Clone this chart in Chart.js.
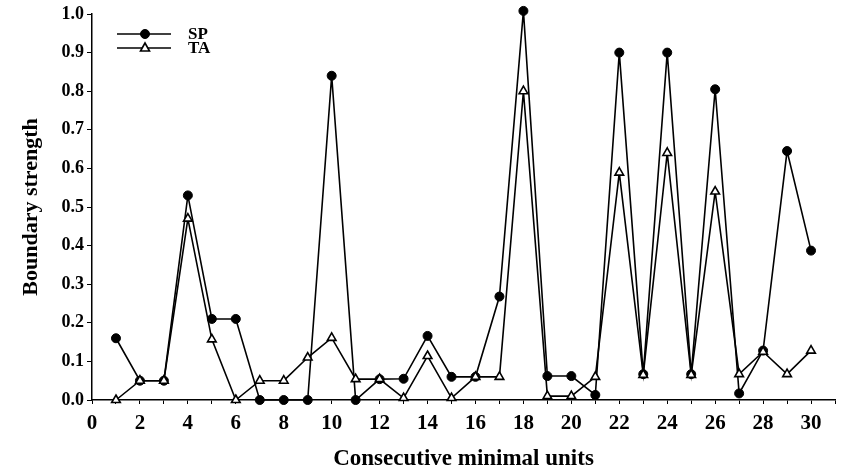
<!DOCTYPE html>
<html>
<head>
<meta charset="utf-8">
<script src="https://cdn.jsdelivr.net/npm/chart.js@4.4.1/dist/chart.umd.min.js"></script>
<style>
  html, body { margin: 0; padding: 0; background: #fff; }
  #wrap { position: relative; width: 842px; height: 469px; }
</style>
</head>
<body>
<div id="wrap"><canvas id="c" width="842" height="469"></canvas></div>
<script>
const units = [1,2,3,4,5,6,7,8,9,10,11,12,13,14,15,16,17,18,19,20,21,22,23,24,25,26,27,28,29,30];
const spValues = [0.16,0.05,0.05,0.53,0.21,0.21,0.00,0.00,0.00,0.84,0.00,0.054,0.055,0.166,0.06,0.06,0.268,1.008,0.062,0.062,0.013,0.90,0.067,0.90,0.067,0.805,0.017,0.128,0.645,0.387];
const taValues = [0.00,0.05,0.05,0.47,0.157,0.00,0.05,0.05,0.11,0.161,0.054,0.054,0.005,0.114,0.005,0.06,0.06,0.80,0.01,0.01,0.06,0.589,0.065,0.64,0.065,0.54,0.067,0.125,0.067,0.128];
const seriesNames = ['SP', 'TA'];
const xTickLabels = [0,2,4,6,8,10,12,14,16,18,20,22,24,26,28,30];
const yTickLabels = ['0.0','0.1','0.2','0.3','0.4','0.5','0.6','0.7','0.8','0.9','1.0'];
const xTitle = 'Consecutive minimal units';
const yTitle = 'Boundary strength';

const FONT = '"Liberation Serif", "Times New Roman", serif';

const legendPlugin = {
  id: 'inlineLegend',
  afterDatasetsDraw(chart) {
    const ctx = chart.ctx;
    const rows = [{y: 34}, {y: 48}];
    chart.data.datasets.forEach((ds, i) => {
      const y = rows[i].y;
      ctx.save();
      ctx.strokeStyle = '#000';
      ctx.lineWidth = 1.5;
      ctx.beginPath();
      ctx.moveTo(117, y);
      ctx.lineTo(171, y);
      ctx.stroke();
      ctx.fillStyle = ds.pointBackgroundColor;
      ctx.strokeStyle = '#000';
      ctx.lineWidth = ds.pointBorderWidth;
      ctx.beginPath();
      if (ds.pointStyle === 'circle') {
        ctx.arc(145, y, ds.pointRadius, 0, Math.PI * 2);
      } else {
        const r = ds.pointRadius;
        ctx.moveTo(145, y - r);
        ctx.lineTo(145 + r * 0.9, y + r * 0.6);
        ctx.lineTo(145 - r * 0.9, y + r * 0.6);
        ctx.closePath();
      }
      ctx.fill();
      ctx.stroke();
      ctx.fillStyle = '#000';
      ctx.font = 'bold 17px ' + FONT;
      ctx.textBaseline = 'middle';
      ctx.textAlign = 'left';
      ctx.fillText(ds.label, 188, y + 1);
      ctx.restore();
    });
  }
};

new Chart(document.getElementById('c'), {
  type: 'line',
  data: {
    datasets: [
      {
        label: seriesNames[0],
        data: units.map((u, i) => ({x: u, y: spValues[i]})),
        borderColor: '#000',
        borderWidth: 1.6,
        pointStyle: 'circle',
        pointRadius: 4.5,
        pointBackgroundColor: '#000',
        pointBorderColor: '#000',
        pointBorderWidth: 1,
        tension: 0,
        order: 2,
        clip: false
      },
      {
        label: seriesNames[1],
        data: units.map((u, i) => ({x: u, y: taValues[i]})),
        borderColor: '#000',
        borderWidth: 1.6,
        pointStyle: 'triangle',
        pointRadius: 5,
        pointBackgroundColor: '#fff',
        pointBorderColor: '#000',
        pointBorderWidth: 1.6,
        tension: 0,
        order: 1,
        clip: false
      }
    ]
  },
  options: {
    responsive: false,
    animation: false,
    devicePixelRatio: 1,
    layout: { padding: { top: 14, right: 4, left: 0, bottom: 0 } },
    plugins: { legend: { display: false }, tooltip: { enabled: false } },
    scales: {
      x: {
        type: 'linear',
        min: 0,
        max: 31,
        afterBuildTicks(scale) {
          const t = [];
          for (let v = 0; v <= 31; v++) t.push({value: v});
          scale.ticks = t;
        },
        afterFit(scale) { scale.height = 69; },
        ticks: {
          autoSkip: false,
          maxRotation: 0,
          color: '#000',
          font: { family: FONT, size: 21, weight: 'bold' },
          padding: 7,
          callback: (v) => xTickLabels.includes(v) ? String(v) : ''
        },
        grid: {
          drawOnChartArea: false,
          drawTicks: true,
          tickLength: 4,
          color: '#000',
          lineWidth: 1
        },
        border: { display: true, color: '#000', width: 1.5 },
        title: {
          display: true,
          text: xTitle,
          color: '#000',
          font: { family: FONT, size: 23, weight: 'bold', lineHeight: 1.0 },
          padding: { top: 10, bottom: -2 }
        }
      },
      y: {
        type: 'linear',
        min: 0,
        max: 1,
        afterBuildTicks(scale) {
          scale.ticks = yTickLabels.map(s => ({value: parseFloat(s)}));
        },
        afterFit(scale) { scale.width = 92; },
        ticks: {
          color: '#000',
          font: { family: FONT, size: 18, weight: 'bold' },
          padding: 3,
          callback: (v) => yTickLabels[Math.round(v * 10)]
        },
        grid: {
          drawOnChartArea: false,
          drawTicks: true,
          tickLength: 5,
          color: '#000',
          lineWidth: 1
        },
        border: { display: true, color: '#000', width: 1.5 },
        title: {
          display: true,
          text: yTitle,
          color: '#000',
          font: { family: FONT, size: 22, weight: 'bold' },
          padding: { top: 18, bottom: 0 }
        }
      }
    }
  },
  plugins: [legendPlugin]
});
</script>
</body>
</html>
